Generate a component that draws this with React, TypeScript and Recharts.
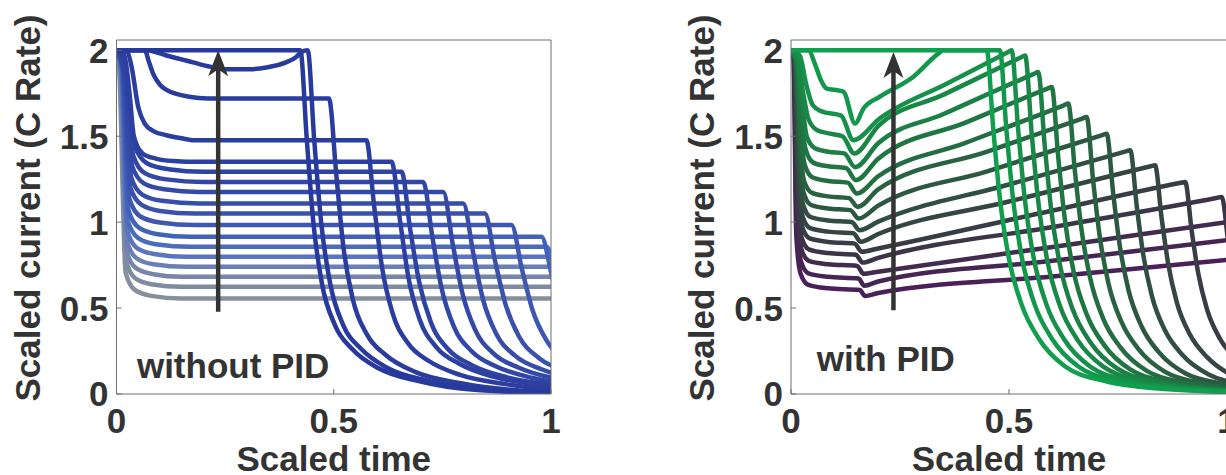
import React from 'react';
import { LineChart, Line, XAxis, YAxis, ReferenceLine, ReferenceDot } from 'recharts';

type Pt = [number, number];

const xTicks = [0, 0.5, 1];
const yTicks = [0, 0.5, 1, 1.5, 2];
const yDomain: [number, number] = [0, 2.06];

// left panel, without PID: [scaled time, scaled current], highest CC level first
const withoutPid: Pt[][] = [
  [[0, 2], [0.423, 2], [0.438, 1.48], [0.453, 1.0], [0.473, 0.64], [0.503, 0.4], [0.543, 0.26], [0.603, 0.15], [0.693, 0.076], [0.823, 0.024], [1.023, 0.004]],
  [[0, 2], [0.07, 2], [0.09, 1.99], [0.115, 1.97], [0.145, 1.95], [0.176, 1.93], [0.215, 1.905], [0.255, 1.89], [0.305, 1.89], [0.345, 1.9], [0.39, 1.93], [0.413, 1.96], [0.426, 1.99], [0.44, 2], [0.455, 1.48], [0.471, 1.0], [0.492, 0.64], [0.522, 0.4], [0.564, 0.26], [0.625, 0.15], [0.718, 0.076], [0.852, 0.024], [1.058, 0.004]],
  [[0, 2], [0.065, 2], [0.075, 1.93], [0.085, 1.86], [0.1, 1.8], [0.115, 1.77], [0.14, 1.745], [0.167, 1.73], [0.21, 1.72], [0.489, 1.72], [0.506, 1.273], [0.522, 0.86], [0.544, 0.55], [0.577, 0.344], [0.621, 0.224], [0.687, 0.129], [0.786, 0.065], [0.929, 0.021], [1.149, 0.003]],
  [[0, 2], [0.025, 1.99], [0.035, 1.9], [0.05, 1.67], [0.065, 1.574], [0.085, 1.53], [0.115, 1.506], [0.15, 1.488], [0.18, 1.477], [0.575, 1.477], [0.593, 1.093], [0.611, 0.739], [0.635, 0.473], [0.671, 0.295], [0.719, 0.192], [0.791, 0.111], [0.899, 0.056], [1.055, 0.018]],
  [[0, 2], [0.018, 1.97], [0.03, 1.75], [0.04, 1.5], [0.06, 1.4], [0.09, 1.37], [0.13, 1.356], [0.19, 1.351], [0.633, 1.351], [0.653, 1.0], [0.672, 0.676], [0.698, 0.432], [0.737, 0.27], [0.789, 0.176], [0.867, 0.101], [0.984, 0.051], [1.153, 0.016]],
  [[0, 2], [0.018, 1.9], [0.042, 1.443], [0.07, 1.343], [0.12, 1.308], [0.2, 1.293], [0.656, 1.293], [0.676, 0.957], [0.697, 0.647], [0.724, 0.414], [0.764, 0.259], [0.818, 0.168], [0.899, 0.097], [1.021, 0.049]],
  [[0, 2], [0.017, 1.9], [0.039, 1.384], [0.066, 1.284], [0.115, 1.249], [0.2, 1.234], [0.706, 1.234], [0.727, 0.913], [0.748, 0.617], [0.776, 0.395], [0.818, 0.247], [0.874, 0.16], [0.958, 0.093], [1.084, 0.047]],
  [[0, 2], [0.016, 1.9], [0.036, 1.326], [0.063, 1.226], [0.11, 1.191], [0.19, 1.176], [0.752, 1.176], [0.774, 0.87], [0.796, 0.588], [0.825, 0.376], [0.868, 0.235], [0.926, 0.153], [1.013, 0.088]],
  [[0, 2], [0.015, 1.9], [0.034, 1.259], [0.06, 1.159], [0.105, 1.124], [0.19, 1.109], [0.798, 1.109], [0.821, 0.821], [0.843, 0.555], [0.873, 0.355], [0.918, 0.222], [0.978, 0.144], [1.068, 0.083]],
  [[0, 2], [0.014, 1.9], [0.032, 1.2], [0.058, 1.1], [0.1, 1.065], [0.18, 1.05], [0.848, 1.05], [0.871, 0.777], [0.895, 0.525], [0.926, 0.336], [0.972, 0.21], [1.034, 0.137]],
  [[0, 2], [0.013, 1.9], [0.03, 1.133], [0.055, 1.033], [0.1, 0.998], [0.18, 0.983], [0.909, 0.983], [0.933, 0.727], [0.957, 0.492], [0.989, 0.315], [1.037, 0.197]],
  [[0, 2], [0.012, 1.9], [0.028, 1.065], [0.053, 0.965], [0.095, 0.93], [0.17, 0.915], [0.978, 0.915], [1.003, 0.677], [1.028, 0.458]],
  [[0, 2], [0.011, 1.9], [0.026, 1.007], [0.05, 0.907], [0.09, 0.872], [0.17, 0.857], [0.99, 0.857], [1.015, 0.634], [1.04, 0.43]],
  [[0, 2], [0.01, 1.9], [0.025, 0.948], [0.048, 0.848], [0.09, 0.813], [0.16, 0.798], [1, 0.798]],
  [[0, 2], [0.009, 1.9], [0.024, 0.89], [0.046, 0.79], [0.085, 0.755], [0.16, 0.74], [1, 0.74]],
  [[0, 2], [0.008, 1.9], [0.023, 0.832], [0.045, 0.732], [0.085, 0.697], [0.15, 0.682], [1, 0.682]],
  [[0, 2], [0.007, 1.9], [0.022, 0.774], [0.043, 0.674], [0.08, 0.639], [0.15, 0.624], [1, 0.624]],
  [[0, 2], [0.006, 1.9], [0.021, 0.706], [0.042, 0.606], [0.08, 0.571], [0.15, 0.556], [1, 0.556]],
];

const withoutPidColors = [
  '#27399c', '#283a9d', '#2a3c9e', '#2b3e9f', '#2d40a1', '#2f43a3', '#3146a5', '#3449a7', '#374da9',
  '#3a51ab', '#3e57b0', '#4262b8', '#4d6bbd', '#5a75bd', '#6a7fb5', '#7586aa', '#7f8ba2', '#878f9c',
];

// right panel, with PID: highest curve first
const withPid: Pt[][] = [
  [[0, 2], [0.449, 2], [0.464, 1.54], [0.479, 1.14], [0.499, 0.8], [0.529, 0.52], [0.569, 0.32], [0.629, 0.16], [0.719, 0.076], [0.849, 0.03], [1.049, 0.008]],
  [[0, 2], [0.04, 2], [0.055, 1.92], [0.068, 1.83], [0.082, 1.777], [0.1, 1.77], [0.12, 1.76], [0.147, 1.574], [0.166, 1.66], [0.204, 1.73], [0.28, 1.845], [0.34, 1.985], [0.349, 2], [0.479, 2], [0.494, 1.54], [0.509, 1.14], [0.529, 0.8], [0.559, 0.52], [0.599, 0.32], [0.659, 0.16], [0.749, 0.076], [0.879, 0.03], [1.079, 0.008]],
  [[0, 2], [0.02, 1.97], [0.035, 1.8], [0.05, 1.68], [0.07, 1.645], [0.115, 1.62], [0.143, 1.477], [0.204, 1.605], [0.357, 1.806], [0.496, 1.987], [0.506, 2], [0.521, 1.54], [0.536, 1.14], [0.556, 0.8], [0.586, 0.52], [0.626, 0.32], [0.686, 0.16], [0.776, 0.076], [0.906, 0.03], [1.106, 0.008]],
  [[0, 2], [0.015, 1.95], [0.028, 1.75], [0.04, 1.6], [0.06, 1.535], [0.09, 1.515], [0.118, 1.5], [0.145, 1.4], [0.2, 1.559], [0.35, 1.742], [0.527, 1.958], [0.537, 1.97], [0.552, 1.517], [0.567, 1.123], [0.587, 0.788], [0.617, 0.512], [0.657, 0.315], [0.717, 0.158], [0.807, 0.075], [0.937, 0.03], [1.137, 0.008]],
  [[0, 2], [0.013, 1.95], [0.025, 1.7], [0.036, 1.5], [0.055, 1.43], [0.085, 1.41], [0.122, 1.4], [0.147, 1.32], [0.2, 1.459], [0.35, 1.629], [0.557, 1.863], [0.567, 1.874], [0.582, 1.443], [0.597, 1.068], [0.617, 0.75], [0.647, 0.487], [0.687, 0.3], [0.747, 0.15], [0.837, 0.071], [0.967, 0.028], [1.167, 0.007]],
  [[0, 2], [0.012, 1.95], [0.023, 1.62], [0.034, 1.42], [0.052, 1.345], [0.085, 1.325], [0.126, 1.315], [0.149, 1.244], [0.2, 1.369], [0.4, 1.579], [0.588, 1.777], [0.598, 1.787], [0.613, 1.376], [0.628, 1.019], [0.648, 0.715], [0.678, 0.465], [0.718, 0.286], [0.778, 0.143], [0.868, 0.068], [0.998, 0.027], [1.198, 0.007]],
  [[0, 2], [0.011, 1.95], [0.021, 1.55], [0.032, 1.33], [0.05, 1.26], [0.085, 1.24], [0.13, 1.23], [0.151, 1.167], [0.2, 1.267], [0.4, 1.461], [0.626, 1.68], [0.636, 1.69], [0.651, 1.301], [0.666, 0.963], [0.686, 0.676], [0.716, 0.439], [0.756, 0.27], [0.816, 0.135], [0.906, 0.064], [1.036, 0.025]],
  [[0, 2], [0.01, 1.95], [0.02, 1.47], [0.03, 1.24], [0.048, 1.17], [0.085, 1.15], [0.133, 1.14], [0.153, 1.089], [0.2, 1.191], [0.45, 1.411], [0.668, 1.603], [0.678, 1.612], [0.693, 1.241], [0.708, 0.919], [0.728, 0.645], [0.758, 0.419], [0.798, 0.258], [0.858, 0.129], [0.948, 0.061], [1.078, 0.024]],
  [[0, 2], [0.009, 1.95], [0.019, 1.4], [0.029, 1.17], [0.046, 1.1], [0.085, 1.08], [0.136, 1.07], [0.155, 1.021], [0.2, 1.096], [0.45, 1.296], [0.714, 1.507], [0.724, 1.515], [0.739, 1.167], [0.754, 0.864], [0.774, 0.606], [0.804, 0.394], [0.844, 0.242], [0.904, 0.121], [0.994, 0.058], [1.124, 0.023]],
  [[0, 2], [0.009, 1.95], [0.018, 1.33], [0.028, 1.1], [0.045, 1.03], [0.085, 1.01], [0.14, 1.0], [0.157, 0.953], [0.2, 1.003], [0.5, 1.219], [0.768, 1.412], [0.778, 1.419], [0.793, 1.093], [0.808, 0.809], [0.828, 0.568], [0.858, 0.369], [0.898, 0.227], [0.958, 0.114], [1.048, 0.054]],
  [[0, 2], [0.008, 1.95], [0.017, 1.26], [0.027, 1.03], [0.044, 0.965], [0.085, 0.945], [0.143, 0.935], [0.16, 0.886], [0.2, 0.931], [0.5, 1.12], [0.825, 1.325], [0.835, 1.331], [0.85, 1.025], [0.865, 0.759], [0.885, 0.532], [0.915, 0.346], [0.955, 0.213], [1.015, 0.106], [1.105, 0.051]],
  [[0, 2], [0.008, 1.95], [0.016, 1.2], [0.026, 0.97], [0.043, 0.905], [0.085, 0.885], [0.146, 0.875], [0.162, 0.828], [0.2, 0.847], [0.55, 1.04], [0.894, 1.229], [0.904, 1.234], [0.919, 0.95], [0.934, 0.703], [0.954, 0.494], [0.984, 0.321], [1.024, 0.197], [1.084, 0.099]],
  [[0, 2], [0.007, 1.95], [0.015, 1.14], [0.025, 0.905], [0.042, 0.84], [0.085, 0.82], [0.149, 0.81], [0.164, 0.765], [0.2, 0.792], [0.6, 0.972], [0.978, 1.142], [0.988, 1.147], [1.003, 0.883], [1.018, 0.654]],
  [[0, 2], [0.007, 1.95], [0.014, 1.07], [0.024, 0.84], [0.041, 0.775], [0.085, 0.755], [0.152, 0.745], [0.166, 0.7], [0.2, 0.712], [0.6, 0.856], [1, 1.0]],
  [[0, 2], [0.006, 1.95], [0.013, 1.0], [0.023, 0.77], [0.04, 0.702], [0.085, 0.682], [0.155, 0.672], [0.168, 0.63], [0.2, 0.655], [0.6, 0.775], [1, 0.895]],
  [[0, 2], [0.006, 1.95], [0.012, 0.93], [0.022, 0.7], [0.04, 0.635], [0.085, 0.615], [0.158, 0.605], [0.17, 0.57], [0.2, 0.588], [0.6, 0.684], [1, 0.78]],
];

const withPidColors = [
  '#0f9f4e', '#12984c', '#16904a', '#198847', '#1c7f45', '#207643', '#246c42', '#286241',
  '#2c5841', '#304e42', '#344543', '#383c45', '#3c3447', '#422b4d', '#462554', '#4a1f5a',
];

const FONT = '"Liberation Sans", Arial, Helvetica, sans-serif';
const INK = '#333333';
const AXIS = '#6e6e6e';
const H = 475;
const PLOT_TOP = 40;
const PLOT_BOTTOM = 394;

const tickStyle = { fill: INK, fontSize: 35, fontWeight: 700, fontFamily: FONT };

function Arrowhead(props: any) {
  const { cx, cy } = props;
  return <path d={`M${cx},${cy} L${cx + 10},${cy + 26} L${cx},${cy + 19} L${cx - 10},${cy + 26} Z`} fill={INK} />;
}

function YTitle(props: any) {
  const vb = props.viewBox;
  const x = vb ? vb.x + vb.width - 77 : props.fx;
  const y = 208;
  return (
    <text x={x} y={y} transform={`rotate(-90 ${x} ${y})`} textAnchor="middle"
      fill={INK} fontSize={35} fontWeight={700} fontFamily={FONT}>
      Scaled current (C Rate)
    </text>
  );
}

function XTitle(props: any) {
  const vb = props.viewBox;
  const x = vb ? vb.x + vb.width / 2 : props.fx;
  return (
    <text x={x} y={471} textAnchor="middle" fill={INK} fontSize={35} fontWeight={700} fontFamily={FONT}>
      Scaled time
    </text>
  );
}

interface PanelProps {
  curves: Pt[][];
  colors: string[];
  note: string;
  noteAt: Pt;
  arrowX: number;
  arrowFrom: number;
  arrowTip: number;
  left: number;
  width: number;
  plotLeft: number;
  plotRight: number;
}

function Panel({ curves, colors, note, noteAt, arrowX, arrowFrom, arrowTip, left, width, plotLeft, plotRight }: PanelProps) {
  // lowest curves drawn first so the upper ones sit on top
  const order = curves.map((_, i) => i).reverse();
  return (
    <div style={{ position: 'absolute', left, top: 0 }}>
      <LineChart
        width={width}
        height={H}
        margin={{ top: 0, right: 0, bottom: 0, left: 0 }}
      >
        <XAxis
          dataKey="x" type="number" domain={[0, 1]} ticks={xTicks} allowDataOverflow height={H - PLOT_BOTTOM}
          stroke={AXIS} tickSize={-5} tickMargin={19} tick={tickStyle} interval={0}
          label={<XTitle fx={(plotLeft + plotRight) / 2} />}
        />
        <XAxis
          xAxisId="top" orientation="top" type="number" domain={[0, 1]} ticks={xTicks}
          allowDataOverflow height={PLOT_TOP} stroke={AXIS} tickSize={-5} tick={false} interval={0}
        />
        <YAxis
          type="number" domain={yDomain} ticks={yTicks} allowDataOverflow width={plotLeft}
          stroke={AXIS} tickSize={-5} tickMargin={13} tick={tickStyle} interval={0}
          label={<YTitle fx={plotLeft - 77} />}
        />
        <YAxis
          yAxisId="right" orientation="right" type="number" domain={yDomain} ticks={yTicks}
          allowDataOverflow width={width - plotRight} stroke={AXIS} tickSize={-5} tick={false} interval={0}
        />
        {order.map((i) => (
          <Line
            key={i}
            data={curves[i].map(([x, y]) => ({ x, y }))}
            dataKey="y"
            type="monotone"
            stroke={colors[i]}
            strokeWidth={4.5}
            strokeLinejoin="round"
            dot={false}
            activeDot={false}
            isAnimationActive={false}
          />
        ))}
        <ReferenceLine
          segment={[{ x: arrowX, y: arrowFrom }, { x: arrowX, y: arrowTip - 0.1 }]}
          stroke={INK}
          strokeWidth={4.5}
        />
        <ReferenceDot x={arrowX} y={arrowTip} r={0} shape={Arrowhead} />
        <ReferenceDot
          x={noteAt[0]}
          y={noteAt[1]}
          r={0}
          shape={(p: any) => (
            <text x={p.cx} y={p.cy} fill={INK} fontSize={35} fontWeight={700} fontFamily={FONT}>
              {note}
            </text>
          )}
        />
      </LineChart>
    </div>
  );
}

export default function App() {
  return (
    <div style={{ position: 'absolute', left: 0, top: 0, width: 1226, height: H, overflow: 'hidden', background: '#fff' }}>
      <Panel
        curves={withoutPid}
        colors={withoutPidColors}
        note="without PID"
        noteAt={[0.047, 0.093]}
        arrowX={0.234}
        arrowFrom={0.478}
        arrowTip={2.0}
        left={0}
        width={570}
        plotLeft={116.5}
        plotRight={551}
      />
      <Panel
        curves={withPid}
        colors={withPidColors}
        note="with PID"
        noteAt={[0.059, 0.134]}
        arrowX={0.235}
        arrowFrom={0.488}
        arrowTip={1.99}
        left={640}
        width={600}
        plotLeft={151}
        plotRight={587}
      />
    </div>
  );
}
